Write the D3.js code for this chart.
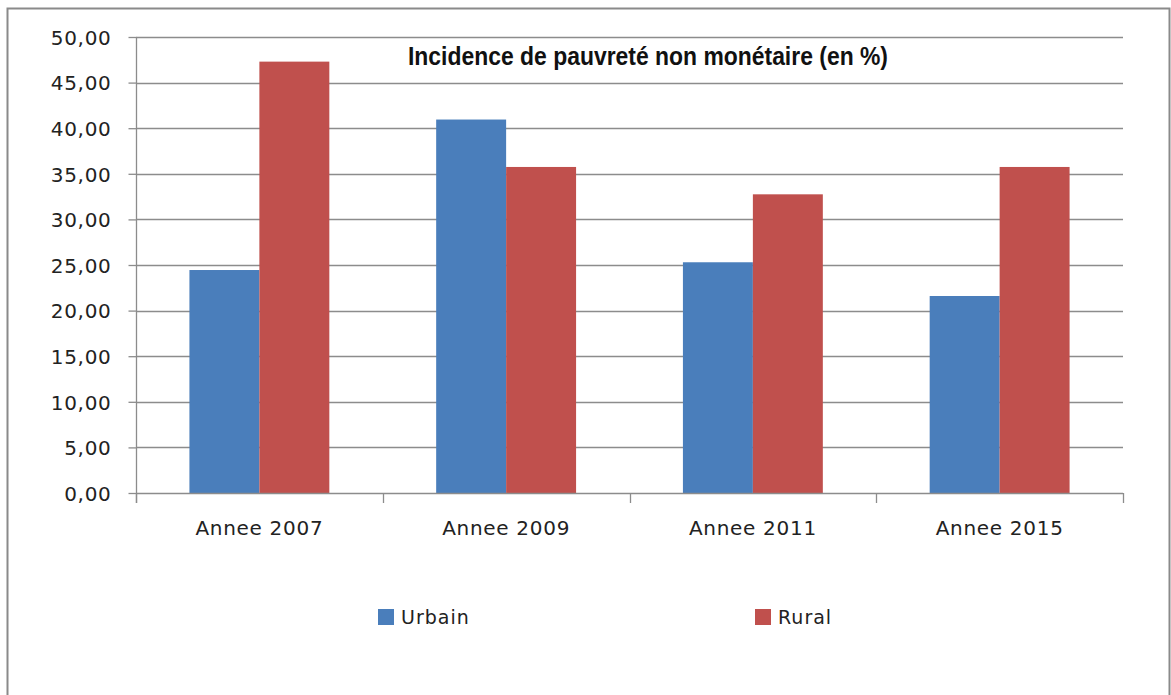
<!DOCTYPE html>
<html lang="fr">
<head>
<meta charset="UTF-8">
<title>Incidence de pauvreté non monétaire</title>
<script src="https://d3js.org/d3.v7.min.js"></script>
<style>
  body { margin: 0; background: #fff; }
  svg { display: block; }
  .tick text, .cat { font-family: "DejaVu Sans", sans-serif; font-size: 20px; fill: #222; letter-spacing: 0.7px; }
  .title { font-family: "Liberation Sans", Arial, sans-serif; font-weight: bold; font-size: 25px; fill: #111; }
  .leg { font-family: "DejaVu Sans", sans-serif; font-size: 19px; fill: #222; letter-spacing: 1px; }
</style>
</head>
<body>
<svg width="1171" height="695"></svg>
<script>
// data
const categories = ["Annee 2007", "Annee 2009", "Annee 2011", "Annee 2015"];
const series = ["Urbain", "Rural"];
const urbain = [24.45, 40.95, 25.3, 21.6];
const rural = [47.3, 35.75, 32.75, 35.75];
const yTicks = [0, 5, 10, 15, 20, 25, 30, 35, 40, 45, 50];
const colors = ["#4a7ebb", "#c0504d"];

const svg = d3.select("svg");

// chart frame
svg.append("rect")
  .attr("x", 7.5).attr("y", 8.5)
  .attr("width", 1162).attr("height", 720)
  .attr("fill", "#fff")
  .attr("stroke", "#8a8a8a")
  .attr("stroke-width", 2);

const plotL = 136, plotR = 1123, plotT = 37, plotB = 493;

const y = d3.scaleLinear().domain([0, 50]).range([plotB, plotT]);
const x0 = d3.scaleBand().domain(categories).range([plotL, plotR])
  .paddingInner(0.433).paddingOuter(0.2165);
const x1 = d3.scaleBand().domain(series).range([0, x0.bandwidth()]);

// gridlines
svg.append("g")
  .selectAll("line")
  .data(yTicks.filter(d => d > 0))
  .join("line")
  .attr("x1", plotL).attr("x2", plotR)
  .attr("y1", d => Math.round(y(d)) + 0.5)
  .attr("y2", d => Math.round(y(d)) + 0.5)
  .attr("stroke", "#8c8c8c")
  .attr("stroke-width", 1.3);

// bars
const rows = categories.map((c, i) => ({ cat: c, values: [urbain[i], rural[i]] }));
svg.append("g")
  .selectAll("g")
  .data(rows)
  .join("g")
  .attr("transform", d => `translate(${x0(d.cat)},0)`)
  .selectAll("rect")
  .data(d => d.values.map((v, j) => ({ s: series[j], v, j })))
  .join("rect")
  .attr("x", d => x1(d.s))
  .attr("width", x1.bandwidth())
  .attr("y", d => y(d.v))
  .attr("height", d => y(0) - y(d.v))
  .attr("fill", d => colors[d.j]);

// y axis
const yAxis = svg.append("g")
  .attr("transform", `translate(${plotL + 0.5},0)`)
  .call(d3.axisLeft(y).tickValues(yTicks).tickSize(8).tickPadding(17)
    .tickFormat(d => d.toFixed(2).replace(".", ",")));
yAxis.select(".domain").attr("stroke", "#8c8c8c").attr("stroke-width", 1.3)
  .attr("d", `M0,${plotT}V${plotB + 10}`);
yAxis.selectAll(".tick line").attr("stroke", "#8c8c8c").attr("stroke-width", 1.3);
yAxis.selectAll(".tick text").attr("dy", "0.36em");

// x axis line and boundary ticks
svg.append("line")
  .attr("x1", plotL).attr("x2", plotR)
  .attr("y1", plotB + 0.5).attr("y2", plotB + 0.5)
  .attr("stroke", "#8c8c8c").attr("stroke-width", 1.3);
svg.append("g")
  .selectAll("line")
  .data(d3.range(categories.length + 1))
  .join("line")
  .attr("x1", i => Math.round(plotL + i * x0.step()) + 0.5)
  .attr("x2", i => Math.round(plotL + i * x0.step()) + 0.5)
  .attr("y1", plotB).attr("y2", plotB + 10)
  .attr("stroke", "#8c8c8c").attr("stroke-width", 1.3);

svg.append("g")
  .selectAll("text")
  .data(categories)
  .join("text")
  .attr("class", "cat")
  .attr("x", d => x0(d) + x0.bandwidth() / 2)
  .attr("y", 535)
  .attr("text-anchor", "middle")
  .text(d => d);

// title
svg.append("text")
  .attr("class", "title")
  .attr("x", 648).attr("y", 65)
  .attr("text-anchor", "middle")
  .attr("textLength", 480)
  .attr("lengthAdjust", "spacingAndGlyphs")
  .text("Incidence de pauvreté non monétaire (en %)");

// legend
const legX = [378, 755];
const leg = svg.append("g")
  .selectAll("g")
  .data(series)
  .join("g")
  .attr("transform", (d, i) => `translate(${legX[i]},609)`);
leg.append("rect").attr("width", 16).attr("height", 16).attr("fill", (d, i) => colors[i]);
leg.append("text").attr("class", "leg").attr("x", 23).attr("y", 15).text(d => d);
</script>
</body>
</html>
